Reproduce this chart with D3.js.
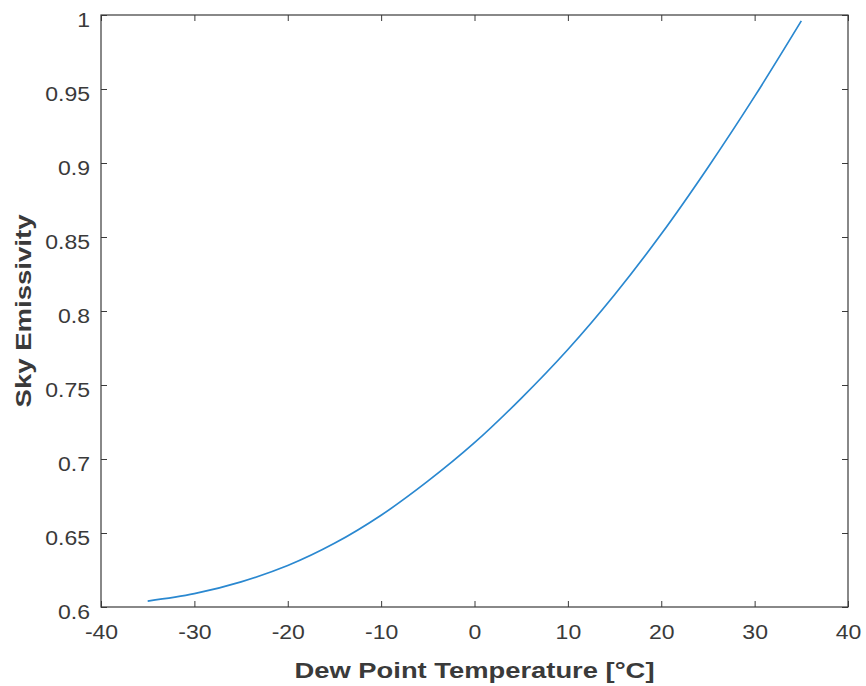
<!DOCTYPE html>
<meta charset="utf-8">
<style>
  body { margin: 0; background: #fff; }
  text { font-family: "Liberation Sans", Arial, sans-serif; fill: #3a3a3a; }
</style>
<script src="https://d3js.org/d3.v7.min.js"></script>
<div id="chart"></div>
<script>
// dew point temperature (deg C) and sky emissivity
var dewPoint   = [-35, -30, -25, -20, -15, -10, -5, 0, 5, 10, 15, 20, 25, 30, 35];
var emissivity = [0.604, 0.609, 0.617, 0.628, 0.643, 0.662, 0.685, 0.711,
                  0.741, 0.774, 0.811, 0.852, 0.897, 0.945, 0.996];
var xTicks = [-40, -30, -20, -10, 0, 10, 20, 30, 40];
var yTicks = [0.6, 0.65, 0.7, 0.75, 0.8, 0.85, 0.9, 0.95, 1];

var W = 866, H = 686;
var margin = {top: 15, right: 18, bottom: 79, left: 101};
var width = W - margin.left - margin.right,
    height = H - margin.top - margin.bottom;

var svg = d3.select("#chart").append("svg")
    .attr("width", W)
    .attr("height", H);
var g = svg.append("g")
    .attr("transform", "translate(" + margin.left + "," + margin.top + ")");

var x = d3.scaleLinear().domain([-40, 40]).range([0, width]);
var y = d3.scaleLinear().domain([0.6, 1]).range([height, 0]);

var axisColor = "#3a3a3a";
var fmt = function(d) { return String(+d.toFixed(2)); };  // plain hyphen minus

// axes (ticks point inward, box like MATLAB)
g.append("g")
    .attr("transform", "translate(0," + height + ")")
    .call(d3.axisBottom(x).tickValues(xTicks).tickSizeInner(-6).tickSizeOuter(0)
      .tickPadding(18).tickFormat(fmt));
g.append("g")
    .call(d3.axisLeft(y).tickValues(yTicks).tickSizeInner(-6).tickSizeOuter(0)
      .tickPadding(11).tickFormat(fmt))
  .selectAll(".tick text")
    .attr("dy", "0.55em");
// top and right ticks
g.append("g")
    .call(d3.axisTop(x).tickValues(xTicks).tickSizeInner(-6).tickSizeOuter(0).tickFormat(""));
g.append("g")
    .attr("transform", "translate(" + width + ",0)")
    .call(d3.axisRight(y).tickValues(yTicks).tickSizeInner(-6).tickSizeOuter(0).tickFormat(""));

g.selectAll(".domain").remove();
g.selectAll(".tick line").attr("stroke", axisColor);
g.selectAll(".tick text")
    .style("font-size", "20px")
    .attr("fill", "#4a4a4a")
    .each(function() {
      // the reference glyphs are a little wider than Liberation Sans
      var len = this.getComputedTextLength();
      if (len > 0) d3.select(this).attr("textLength", len * 1.15).attr("lengthAdjust", "spacingAndGlyphs");
    });

g.append("rect")
    .attr("width", width)
    .attr("height", height)
    .attr("fill", "none")
    .attr("stroke", axisColor)
    .attr("stroke-width", 1.2);

// curve
var pts = dewPoint.map(function(d, i) { return [d, emissivity[i]]; });
g.append("path")
    .datum(pts)
    .attr("fill", "none")
    .attr("stroke", "#2a88d0")
    .attr("stroke-width", 1.7)
    .attr("d", d3.line()
      .x(function(d) { return x(d[0]); })
      .y(function(d) { return y(d[1]); })
      .curve(d3.curveCatmullRom));

// labels
svg.append("text")
    .attr("x", margin.left + width / 2)
    .attr("y", 678)
    .attr("text-anchor", "middle")
    .attr("textLength", 360)
    .attr("lengthAdjust", "spacingAndGlyphs")
    .style("font-size", "22px")
    .style("font-weight", "bold")
    .text("Dew Point Temperature [°C]");

svg.append("text")
    .attr("transform", "translate(31," + (margin.top + height / 2) + ") rotate(-90)")
    .attr("text-anchor", "middle")
    .attr("textLength", 193)
    .attr("lengthAdjust", "spacingAndGlyphs")
    .style("font-size", "22px")
    .style("font-weight", "bold")
    .text("Sky Emissivity");
</script>
